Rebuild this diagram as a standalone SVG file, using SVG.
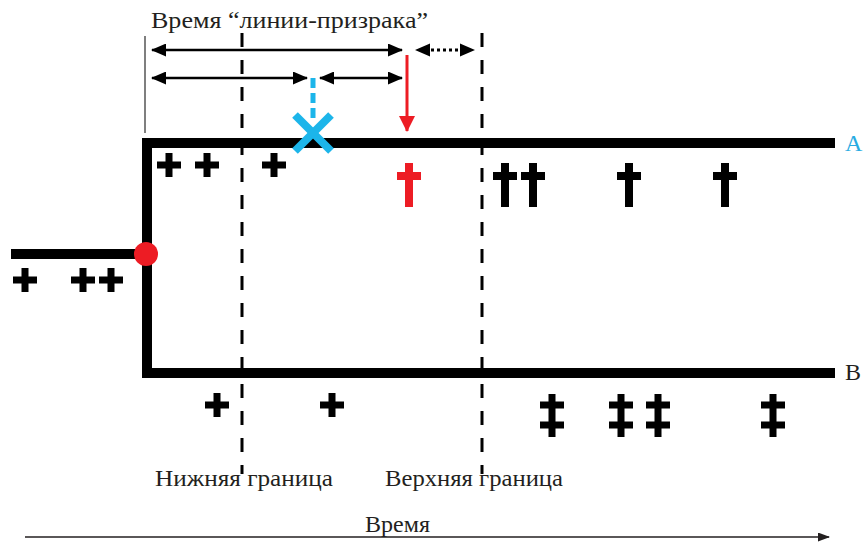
<svg xmlns="http://www.w3.org/2000/svg" width="863" height="542" viewBox="0 0 863 542">
<style>
.txt{font-family:"Liberation Serif","Times New Roman",serif;fill:#231f20;font-size:24px}
.thick{fill:none;stroke:#000;stroke-width:10;stroke-linejoin:miter;stroke-linecap:butt}
.dash{fill:none;stroke:#000;stroke-width:3;stroke-dasharray:14 13}
.arr{fill:none;stroke:#000;stroke-width:2.5}
.blk{fill:#000}
.red{fill:#ed1c24}
</style>
<defs>
<marker id="ah" viewBox="0 0 15 13" markerWidth="15" markerHeight="13" refX="14" refY="6.5" orient="auto-start-reverse" markerUnits="userSpaceOnUse">
<path d="M0,0 L15,6.5 L0,13 z" fill="#000"/>
</marker>
<marker id="ahr" viewBox="0 0 16 20" markerWidth="16" markerHeight="20" refX="15" refY="10" orient="auto" markerUnits="userSpaceOnUse">
<path d="M0,2 L16,10 L0,18 z" fill="#ed1c24"/>
</marker>
<marker id="aht" viewBox="0 0 12 9" markerWidth="12" markerHeight="9" refX="11" refY="4.5" orient="auto" markerUnits="userSpaceOnUse">
<path d="M0,0 L12,4.5 L0,9 z" fill="#231f20"/>
</marker>
<g id="plus">
<rect x="-12" y="-3.5" width="24" height="7"/>
<rect x="-3.5" y="-12" width="7" height="24"/>
</g>
<g id="dagger">
<rect x="-4" y="0" width="8" height="44"/>
<rect x="-12" y="9" width="24" height="8"/>
</g>
<g id="ddagger">
<rect x="-3.5" y="0" width="7" height="43"/>
<rect x="-12" y="7.5" width="24" height="7"/>
<rect x="-12" y="27.5" width="24" height="7"/>
</g>
</defs>
<rect width="863" height="542" fill="#fff"/>

<g id="connectors">
<line x1="145" y1="36" x2="145" y2="133" stroke="#555" stroke-width="1.5"/>
<line id="lower-bound" class="dash" x1="242" y1="33" x2="242" y2="474"/>
<line id="upper-bound" class="dash" x1="482" y1="33" x2="482" y2="474"/>
<path class="arr" d="M152,50 H402" marker-start="url(#ah)" marker-end="url(#ah)"/>
<line x1="431" y1="50" x2="460" y2="50" stroke="#000" stroke-width="3" stroke-dasharray="3 3"/>
<path d="M415,50 L430,43.5 L430,56.5 z" fill="#000"/>
<path d="M475,50 L460,43.5 L460,56.5 z" fill="#000"/>
<path class="arr" d="M152,78 H307" marker-start="url(#ah)" marker-end="url(#ah)"/>
<path class="arr" d="M320,78 H402" marker-start="url(#ah)" marker-end="url(#ah)"/>
<line x1="313" y1="78" x2="313" y2="121" stroke="#1cb5ea" stroke-width="5" stroke-dasharray="10 5"/>
<line x1="407" y1="55" x2="407" y2="131" stroke="#ed1c24" stroke-width="3" marker-end="url(#ahr)"/>
<line x1="25" y1="537" x2="829" y2="537" stroke="#231f20" stroke-width="1.5" marker-end="url(#aht)"/>
</g>

<g id="lineage">
<path class="thick" d="M835,143 H147 V373 H835"/>
<path class="thick" d="M11,254 H147"/>
<circle id="split" cx="146" cy="254" r="12" fill="#ed1c24"/>
</g>

<g id="ghost-x" stroke="#1cb5ea" stroke-width="8" stroke-linecap="butt">
<line x1="295" y1="115" x2="331" y2="151"/>
<line x1="331" y1="115" x2="295" y2="151"/>
</g>

<g id="stub-marks" class="blk">
<use href="#plus" x="25" y="280"/>
<use href="#plus" x="83" y="280"/>
<use href="#plus" x="111" y="280"/>
</g>
<g id="a-marks" class="blk">
<use href="#plus" x="169" y="165"/>
<use href="#plus" x="207" y="165"/>
<use href="#plus" x="274" y="165"/>
<use href="#dagger" x="505" y="163"/>
<use href="#dagger" x="533" y="163"/>
<use href="#dagger" x="629" y="163"/>
<use href="#dagger" x="725" y="163"/>
</g>
<g id="ghost-dagger" class="red">
<use href="#dagger" x="409" y="163"/>
</g>
<g id="b-marks" class="blk">
<use href="#plus" x="217" y="405"/>
<use href="#plus" x="332" y="405"/>
<use href="#ddagger" x="552" y="394"/>
<use href="#ddagger" x="621" y="394"/>
<use href="#ddagger" x="658" y="394"/>
<use href="#ddagger" x="773" y="394"/>
</g>

<g id="labels">
<text class="txt" x="151" y="28" textLength="277" lengthAdjust="spacingAndGlyphs">Время “линии-призрака”</text>
<text class="txt" x="845" y="151" style="fill:#29abe2">A</text>
<text class="txt" x="845" y="380">B</text>
<text class="txt" x="155" y="486" textLength="178" lengthAdjust="spacingAndGlyphs">Нижняя граница</text>
<text class="txt" x="385" y="486" textLength="178" lengthAdjust="spacingAndGlyphs">Верхняя граница</text>
<text class="txt" x="365" y="532" textLength="65" lengthAdjust="spacingAndGlyphs">Время</text>
</g>
</svg>
